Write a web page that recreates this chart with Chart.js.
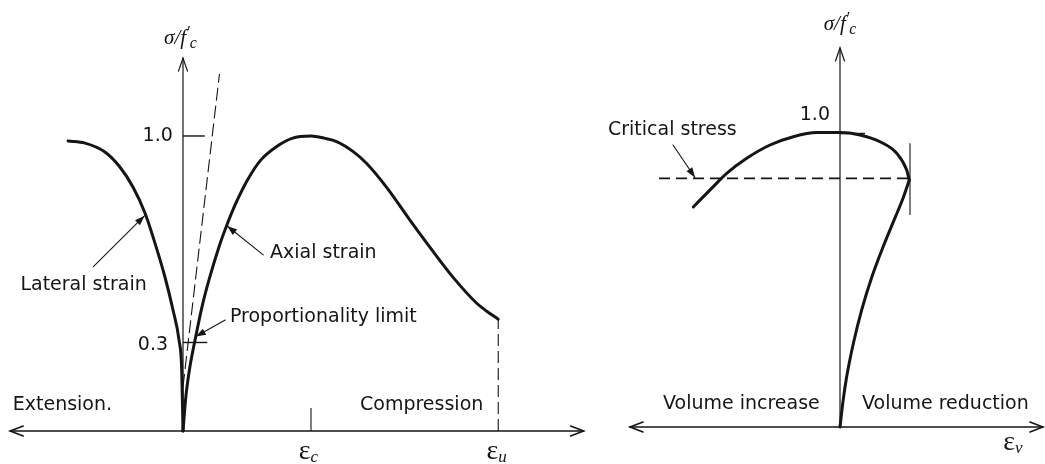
<!DOCTYPE html>
<html>
<head>
<meta charset="utf-8">
<script src="https://cdn.jsdelivr.net/npm/chart.js@4"></script>
<style>
  body { margin: 0; background: #fff; }
  #wrap { position: relative; width: 1045px; height: 464px; }
  #left { position: absolute; left: 0; top: 0; }
  #right { position: absolute; left: 600px; top: 0; }
</style>
</head>
<body>
<div id="wrap">
  <canvas id="left" width="600" height="464"></canvas>
  <canvas id="right" width="445" height="464"></canvas>
</div>
<script>
// Left panel: stress ratio vs strain (strain in units of eps_c)
const axialStrain = [0, 0.023, 0.055, 0.094, 0.148, 0.203, 0.281, 0.34, 0.414, 0.504, 0.609, 0.727, 0.852, 1.0, 1.109, 1.2, 1.33, 1.435, 1.591, 1.773, 1.955, 2.112, 2.295, 2.373, 2.463];
const axialStress = [0, 0.119, 0.22, 0.308, 0.42, 0.512, 0.624, 0.695, 0.773, 0.851, 0.919, 0.963, 0.992, 1.0, 0.992, 0.981, 0.947, 0.907, 0.826, 0.715, 0.608, 0.52, 0.433, 0.406, 0.379];
const lateralStrain = [-0.898, -0.766, -0.61, -0.493, -0.391, -0.297, -0.219, -0.141, -0.078, -0.031, -0.01, 0];
const lateralStress = [0.983, 0.976, 0.946, 0.895, 0.827, 0.739, 0.637, 0.522, 0.41, 0.308, 0.207, 0];
const tangentStrain = [0, 0.285];
const tangentStress = [0.15, 1.21];
const stressTicks = [1.0, 0.3];
const peakStrain = 1.0;
const ultimateStrain = 2.463;
const ultimateStress = 0.379;

// Right panel: stress ratio vs volumetric strain
const volStrain = [0, 0.032, 0.067, 0.134, 0.217, 0.32, 0.431, 0.555, 0.635, 0.693, 0.667, 0.567, 0.4, 0.2, 0, -0.233, -0.467, -0.7, -0.933, -1.133, -1.267, -1.467];
const volStress = [0, 0.092, 0.171, 0.284, 0.397, 0.51, 0.611, 0.713, 0.78, 0.837, 0.871, 0.928, 0.967, 0.99, 0.998, 0.998, 0.984, 0.956, 0.911, 0.86, 0.815, 0.746];
const criticalStress = 0.843;
const criticalRange = [-1.81, 0.7];
const criticalStrain = 0.7;

const INK = '#151515';
const SANS = '"DejaVu Sans", Verdana, sans-serif';
const SERIF = '"Liberation Serif", "DejaVu Serif", serif';

function pts(xs, ys) {
  return xs.map((x, i) => ({ x: x, y: ys[i] }));
}

function line(data, opts) {
  return Object.assign({
    data: data,
    showLine: true,
    pointRadius: 0,
    borderColor: INK,
    borderWidth: 1.4,
    tension: 0,
    fill: false
  }, opts || {});
}

const CURVE = { borderWidth: 3, cubicInterpolationMode: 'monotone', borderJoinStyle: 'round', borderCapStyle: 'round' };

function arrowHead(ctx, x1, y1, x2, y2, len, half, filled) {
  const a = Math.atan2(y2 - y1, x2 - x1);
  const bx = x2 - len * Math.cos(a), by = y2 - len * Math.sin(a);
  const nx = -Math.sin(a) * half, ny = Math.cos(a) * half;
  ctx.beginPath();
  ctx.moveTo(bx + nx, by + ny);
  ctx.lineTo(x2, y2);
  ctx.lineTo(bx - nx, by - ny);
  if (filled) { ctx.closePath(); ctx.fill(); } else { ctx.stroke(); }
}

// draws a list of text runs next to each other
function runs(ctx, parts, x, y, align) {
  let w = 0;
  parts.forEach(p => { ctx.font = p.font; p.w = ctx.measureText(p.t).width; w += p.w; });
  let cx = align === 'center' ? x - w / 2 : (align === 'right' ? x - w : x);
  parts.forEach(p => {
    ctx.font = p.font;
    ctx.textAlign = 'left';
    ctx.fillText(p.t, cx, y + (p.dy || 0));
    cx += p.w;
  });
}

const sketch = {
  id: 'sketch',
  afterDatasetsDraw(chart) {
    const cfg = chart.options.plugins.sketch;
    const ctx = chart.ctx;
    const sx = chart.scales.x, sy = chart.scales.y;
    const X = v => sx.getPixelForValue(v), Y = v => sy.getPixelForValue(v);
    ctx.save();
    ctx.strokeStyle = INK;
    ctx.fillStyle = INK;
    ctx.lineCap = 'round';

    // axes with open arrow heads
    ctx.lineWidth = 1.6;
    const x0 = X(cfg.xAxis[0]), x1 = X(cfg.xAxis[1]), yb = Y(0);
    ctx.beginPath(); ctx.moveTo(x0, yb); ctx.lineTo(x1, yb); ctx.stroke();
    arrowHead(ctx, x1 + 10, yb, x0, yb, 13, 5, false);
    arrowHead(ctx, x0 - 10, yb, x1, yb, 13, 5, false);
    ctx.lineWidth = 1.2;
    const ya = X(0), yt = Y(cfg.yTop);
    ctx.beginPath(); ctx.moveTo(ya, yb); ctx.lineTo(ya, yt); ctx.stroke();
    arrowHead(ctx, ya, yb, ya, yt, 13, 4.5, false);

    // pointer arrows
    ctx.lineWidth = 1.1;
    cfg.arrows.forEach(a => {
      const ax = X(a.from[0]), ay = Y(a.from[1]), bx = X(a.to[0]), by = Y(a.to[1]);
      ctx.beginPath(); ctx.moveTo(ax, ay); ctx.lineTo(bx, by); ctx.stroke();
      arrowHead(ctx, ax, ay, bx, by, 10, 3.5, true);
    });

    // labels
    ctx.textBaseline = 'middle';
    cfg.labels.forEach(l => runs(ctx, l.parts, X(l.x), Y(l.y), l.align));
    ctx.restore();
  }
};

function txt(t) {
  return [{ t: t, font: '19px ' + SANS }];
}
function stressLabel() {
  return [
    { t: 'σ/f', font: 'italic 21px ' + SERIF },
    { t: '′', font: 'italic 16px ' + SERIF, dy: -6 },
    { t: 'c', font: 'italic 16px ' + SERIF, dy: 5 }
  ];
}
function epsLabel(sub) {
  return [
    { t: 'ε', font: '28px ' + SERIF },
    { t: sub, font: 'italic 17px ' + SERIF, dy: 6 }
  ];
}

function baseOptions(xr, yr, sk) {
  return {
    responsive: false,
    animation: false,
    devicePixelRatio: 1,
    layout: { padding: 0 },
    scales: {
      x: { type: 'linear', min: xr[0], max: xr[1], display: false },
      y: { type: 'linear', min: yr[0], max: yr[1], display: false }
    },
    plugins: { legend: { display: false }, tooltip: { enabled: false }, sketch: sk }
  };
}

// ---------- left chart ----------
new Chart(document.getElementById('left'), {
  type: 'scatter',
  data: {
    datasets: [
      line(pts(axialStrain, axialStress), CURVE),
      line(pts(lateralStrain, lateralStress), CURVE),
      line(pts(tangentStrain, tangentStress), { borderWidth: 1.1, borderDash: [13, 5] }),
      line([{ x: 0, y: stressTicks[0] }, { x: 0.17, y: stressTicks[0] }]),
      line([{ x: 0, y: stressTicks[1] }, { x: 0.19, y: stressTicks[1] }]),
      line([{ x: peakStrain, y: 0 }, { x: peakStrain, y: 0.078 }], { borderWidth: 1.1 }),
      line([{ x: ultimateStrain, y: 0 }, { x: ultimateStrain, y: ultimateStress }], { borderWidth: 1.1, borderDash: [12, 5] })
    ]
  },
  options: baseOptions([-1.4297, 3.258], [-0.1119, 1.461], {
    xAxis: [-1.35, 3.13],
    yTop: 1.264,
    arrows: [
      { from: [-0.70, 0.557], to: [-0.30, 0.73] },
      { from: [0.627, 0.597], to: [0.345, 0.695] },
      { from: [0.33, 0.376], to: [0.1, 0.32] }
    ],
    labels: [
      { parts: stressLabel(), x: -0.02, y: 1.33, align: 'center' },
      { parts: txt(stressTicks[0].toFixed(1)), x: -0.08, y: stressTicks[0], align: 'right' },
      { parts: txt(stressTicks[1].toFixed(1)), x: -0.117, y: 0.29, align: 'right' },
      { parts: txt('Lateral strain'), x: -1.27, y: 0.495, align: 'left' },
      { parts: txt('Axial strain'), x: 0.68, y: 0.603, align: 'left' },
      { parts: txt('Proportionality limit'), x: 0.367, y: 0.386, align: 'left' },
      { parts: txt('Extension.'), x: -1.33, y: 0.088, align: 'left' },
      { parts: txt('Compression'), x: 1.383, y: 0.088, align: 'left' },
      { parts: epsLabel('c'), x: 0.98, y: -0.071, align: 'center' },
      { parts: epsLabel('u'), x: 2.45, y: -0.071, align: 'center' }
    ]
  }),
  plugins: [sketch]
});

// ---------- right chart ----------
// the curve is split at its right-most point so that each piece is single-valued in strain
const turn = volStrain.indexOf(Math.max.apply(null, volStrain));
const volRise = pts(volStrain, volStress).slice(0, turn + 1);
const volCap = pts(volStrain, volStress).slice(turn).reverse();

new Chart(document.getElementById('right'), {
  type: 'scatter',
  data: {
    datasets: [
      line(volRise, CURVE),
      line(volCap, CURVE),
      line(pts(criticalRange, [criticalStress, criticalStress]), { borderWidth: 1.6, borderDash: [11, 6] }),
      line([{ x: 0, y: 0.995 }, { x: 0.25, y: 0.995 }]),
      line([{ x: criticalStrain, y: 0.719 }, { x: criticalStrain, y: 0.962 }], { borderWidth: 1.1 })
    ]
  },
  options: baseOptions([-2.40, 2.05], [-0.1254, 1.4475], {
    xAxis: [-2.1, 2.03],
    yTop: 1.285,
    arrows: [
      { from: [-1.67, 0.956], to: [-1.45, 0.846] }
    ],
    labels: [
      { parts: stressLabel(), x: 0, y: 1.363, align: 'center' },
      { parts: txt('1.0'), x: -0.1, y: 1.058, align: 'right' },
      { parts: txt('Critical stress'), x: -2.32, y: 1.007, align: 'left' },
      { parts: txt('Volume increase'), x: -1.77, y: 0.078, align: 'left' },
      { parts: txt('Volume reduction'), x: 0.22, y: 0.078, align: 'left' },
      { parts: epsLabel('v'), x: 1.73, y: -0.054, align: 'center' }
    ]
  }),
  plugins: [sketch]
});
</script>
</body>
</html>
